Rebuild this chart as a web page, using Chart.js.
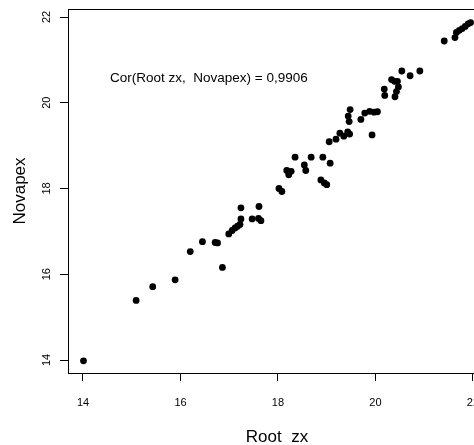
<!DOCTYPE html>
<html>
<head>
<meta charset="utf-8">
<script src="https://cdn.jsdelivr.net/npm/chart.js@4"></script>
<style>
html,body{margin:0;padding:0;background:#fff;overflow:hidden;}
#wrap{width:500px;height:445px;position:relative;}
</style>
</head>
<body>
<div id="wrap"><canvas id="c"></canvas></div>
<script>
const rootZx = [14.01,15.09,15.43,15.89,16.20,16.45,16.71,16.76,16.86,16.99,17.06,17.12,17.17,17.22,17.24,17.24,17.47,17.61,17.60,17.65,18.02,18.08,18.18,18.27,18.22,18.35,18.54,18.57,18.68,18.92,19.07,18.88,18.95,19.00,19.05,19.19,19.27,19.35,19.43,19.47,19.46,19.44,19.48,19.70,19.78,19.88,19.97,20.04,19.93,20.18,20.19,20.33,20.39,20.45,20.47,20.43,20.40,20.54,20.71,20.91,21.41,21.63,21.66,21.72,21.78,21.84,21.90,21.95];
const novapex = [13.98,15.39,15.71,15.87,16.53,16.76,16.74,16.73,16.16,16.94,17.02,17.08,17.12,17.16,17.29,17.55,17.29,17.58,17.30,17.25,18.00,17.93,18.42,18.40,18.32,18.73,18.55,18.42,18.73,18.73,18.59,18.20,18.13,18.09,19.09,19.15,19.29,19.22,19.32,19.27,19.56,19.69,19.84,19.61,19.76,19.80,19.78,19.79,19.25,20.32,20.17,20.54,20.50,20.50,20.37,20.26,20.14,20.74,20.63,20.74,21.44,21.52,21.64,21.69,21.73,21.78,21.84,21.87];
const xTicks = [14,16,18,20,22];
const yTicks = [14,16,18,20,22];
const xTitle = 'Root  zx';
const yTitle = 'Novapex';
const noteText = 'Cor(Root zx,  Novapex) = 0,9906';

const FONT = '"Liberation Sans", Arial, Helvetica, sans-serif';
const points = rootZx.map((x,i)=>({x:x,y:novapex[i]}));

const decor = {
  id:'decor',
  afterDraw(chart){
    const ctx = chart.ctx, a = chart.chartArea;
    const xs = chart.scales.x, ys = chart.scales.y;
    ctx.save();
    // top border
    ctx.strokeStyle = '#000';
    ctx.lineWidth = 1;
    ctx.beginPath();
    ctx.moveTo(a.left, a.top + 0.5);
    ctx.lineTo(a.right, a.top + 0.5);
    ctx.stroke();
    ctx.fillStyle = '#000';
    // x tick labels
    ctx.font = '11px ' + FONT;
    ctx.textAlign = 'center';
    ctx.textBaseline = 'middle';
    xTicks.forEach(v=>{
      ctx.fillText(String(v), xs.getPixelForValue(v), 403);
    });
    // y tick labels rotated
    yTicks.forEach(v=>{
      ctx.save();
      ctx.translate(47, ys.getPixelForValue(v));
      ctx.rotate(-Math.PI/2);
      ctx.fillText(String(v), 0, 0);
      ctx.restore();
    });
    // axis titles
    ctx.font = '17px ' + FONT;
    ctx.fillText(xTitle, (a.left + a.right)/2, 437);
    ctx.save();
    ctx.translate(20, (a.top + a.bottom)/2);
    ctx.rotate(-Math.PI/2);
    ctx.fillText(yTitle, 0, 0);
    ctx.restore();
    // annotation
    ctx.font = '13.5px ' + FONT;
    ctx.textAlign = 'left';
    ctx.fillText(noteText, 110, 78);
    ctx.restore();
  }
};

new Chart(document.getElementById('c'), {
  type:'scatter',
  data:{datasets:[{
    data:points,
    backgroundColor:'#000',
    borderColor:'#000',
    borderWidth:0,
    pointRadius:3.4,
    pointHoverRadius:3.4
  }]},
  options:{
    responsive:true,
    maintainAspectRatio:false,
    devicePixelRatio:1,
    animation:false,
    events:[],
    layout:{padding:{top:9,right:14,left:0,bottom:0}},
    plugins:{legend:{display:false},tooltip:{enabled:false}},
    scales:{
      x:{
        type:'linear',
        min:13.6923, max:22.267,
        afterBuildTicks:s=>{s.ticks = xTicks.map(v=>({value:v}));},
        afterFit:s=>{s.height = 72;},
        ticks:{display:false},
        grid:{display:true,drawOnChartArea:false,drawTicks:true,tickLength:8,color:'#000',lineWidth:1},
        border:{display:true,color:'#000',width:1}
      },
      y:{
        type:'linear',
        min:13.6968, max:22.1866,
        afterBuildTicks:s=>{s.ticks = yTicks.map(v=>({value:v}));},
        afterFit:s=>{s.width = 68;},
        ticks:{display:false},
        grid:{display:true,drawOnChartArea:false,drawTicks:true,tickLength:8,color:'#000',lineWidth:1},
        border:{display:true,color:'#000',width:1}
      }
    }
  },
  plugins:[decor]
});
</script>
</body>
</html>
